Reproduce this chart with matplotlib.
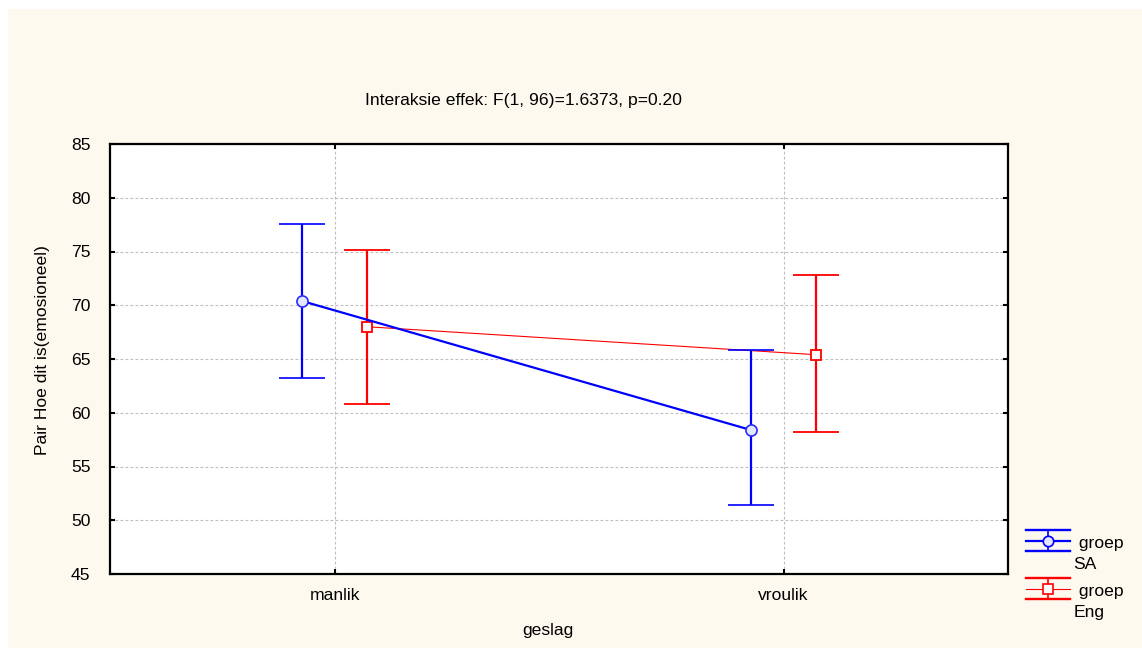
import numpy as np
import matplotlib
matplotlib.use("Agg")
import matplotlib.pyplot as plt
from matplotlib.lines import Line2D
from matplotlib.patches import Rectangle
from matplotlib.legend_handler import HandlerBase

plt.rcParams["font.family"] = ["Liberation Sans", "DejaVu Sans"]
FS = 12.6

# data
categories = ["manlik", "vroulik"]
sa_mean = [70.4, 58.4]
sa_low = [63.2, 51.4]
sa_high = [77.6, 65.8]
eng_mean = [68.0, 65.4]
eng_low = [60.8, 58.2]
eng_high = [75.1, 72.8]

title = "Interaksie effek: F(1, 96)=1.6373, p=0.20"
ylabel = "Pair Hoe dit is(emosioneel)"
xlabel = "geslag"


class ErrbarHandler(HandlerBase):
    """legend key like the statistica one: three bars + marker, aligned with first text line"""

    def __init__(self, color, mid_lw, marker, mfc, shift):
        super().__init__()
        self.color = color
        self.mid_lw = mid_lw
        self.marker = marker
        self.mfc = mfc
        self.shift = shift

    def create_artists(self, legend, orig_handle, xdescent, ydescent,
                       width, height, fontsize, trans):
        x0, x1 = -xdescent, -xdescent + width
        yc = (height - ydescent) / 2 + self.shift
        h = 7.5
        xm = (x0 + x1) / 2
        arts = [
            Line2D([x0, x1], [yc + h, yc + h], color=self.color, lw=1.7),
            Line2D([x0, x1], [yc - h, yc - h], color=self.color, lw=1.7),
            Line2D([x0, x1], [yc, yc], color=self.color, lw=self.mid_lw),
            Line2D([xm, xm], [yc - h, yc + h], color=self.color, lw=1.2),
            Line2D([xm], [yc], marker=self.marker, ms=7.5, mfc=self.mfc,
                   mec=self.color, mew=1.2, ls="none"),
        ]
        for a in arts:
            a.set_transform(trans)
        return arts


fig = plt.figure(figsize=(11.42, 6.48), dpi=100, facecolor="white")
fig.patches.append(Rectangle((8 / 1142, 0), 1 - 8 / 1142, 1 - 9 / 648,
                             transform=fig.transFigure, facecolor="#fef9ef",
                             edgecolor="none", zorder=-10))

ax = fig.add_axes([110 / 1142, 74 / 648, 898 / 1142, 430 / 648])
ax.set_facecolor("white")

x = np.arange(len(categories))
off = 0.073

sa_err = [np.array(sa_mean) - np.array(sa_low), np.array(sa_high) - np.array(sa_mean)]
eng_err = [np.array(eng_mean) - np.array(eng_low), np.array(eng_high) - np.array(eng_mean)]

ax.errorbar(x + off, eng_mean, yerr=eng_err, color="#ff0000", lw=0.8,
            elinewidth=1.6, capsize=16.9, capthick=1.6, marker="s", ms=7.5,
            mfc="white", mec="#ff0000", mew=1.3, zorder=3)
ax.errorbar(x - off, sa_mean, yerr=sa_err, color="#0000ff", lw=1.6,
            elinewidth=1.6, capsize=16.9, capthick=1.6, marker="o", ms=8,
            mfc="#e4e8ff", mec="#2a2aff", mew=1.2, zorder=4)

ax.set_xlim(-0.5, 1.5)
ax.set_ylim(45, 85)
ax.set_yticks(np.arange(45, 86, 5))
ax.set_xticks(x)
ax.set_xticklabels(categories)

ax.grid(True, color="#bdbdbd", lw=0.8, linestyle=(0, (2.5, 2)))
ax.set_axisbelow(True)
for s in ax.spines.values():
    s.set_linewidth(1.6)
ax.tick_params(axis="both", direction="in", length=3.5, width=1.5,
               top=True, right=True, labelsize=FS, colors="black")
ax.tick_params(axis="y", pad=14)
ax.tick_params(axis="x", pad=10)

fig.text(523 / 1142, 1 - 101 / 648, title, ha="center", va="center", fontsize=FS)
fig.text(43 / 1142, 1 - 350 / 648, ylabel, ha="center", va="center",
         rotation=90, fontsize=FS)
fig.text(548 / 1142, 1 - 630 / 648, xlabel, ha="center", va="center", fontsize=FS)

h_sa = Line2D([], [])
h_eng = Line2D([], [])
leg = ax.legend([h_sa, h_eng], [" groep\nSA", " groep\nEng"],
                handler_map={h_sa: ErrbarHandler("#0000ff", 1.6, "o", "#e4e8ff", 9.5),
                             h_eng: ErrbarHandler("#ff0000", 0.8, "s", "white", 9.5)},
                loc="upper left", bbox_to_anchor=(1021 / 1142, 1 - 531 / 648),
                bbox_transform=fig.transFigure, frameon=False, fontsize=FS,
                handlelength=2.5, handletextpad=0.2, labelspacing=0.72,
                borderaxespad=0, borderpad=0.3)
for t in leg.get_texts():
    t.set_linespacing(1.46)

fig.savefig("out.png", dpi=100, facecolor=fig.get_facecolor())
